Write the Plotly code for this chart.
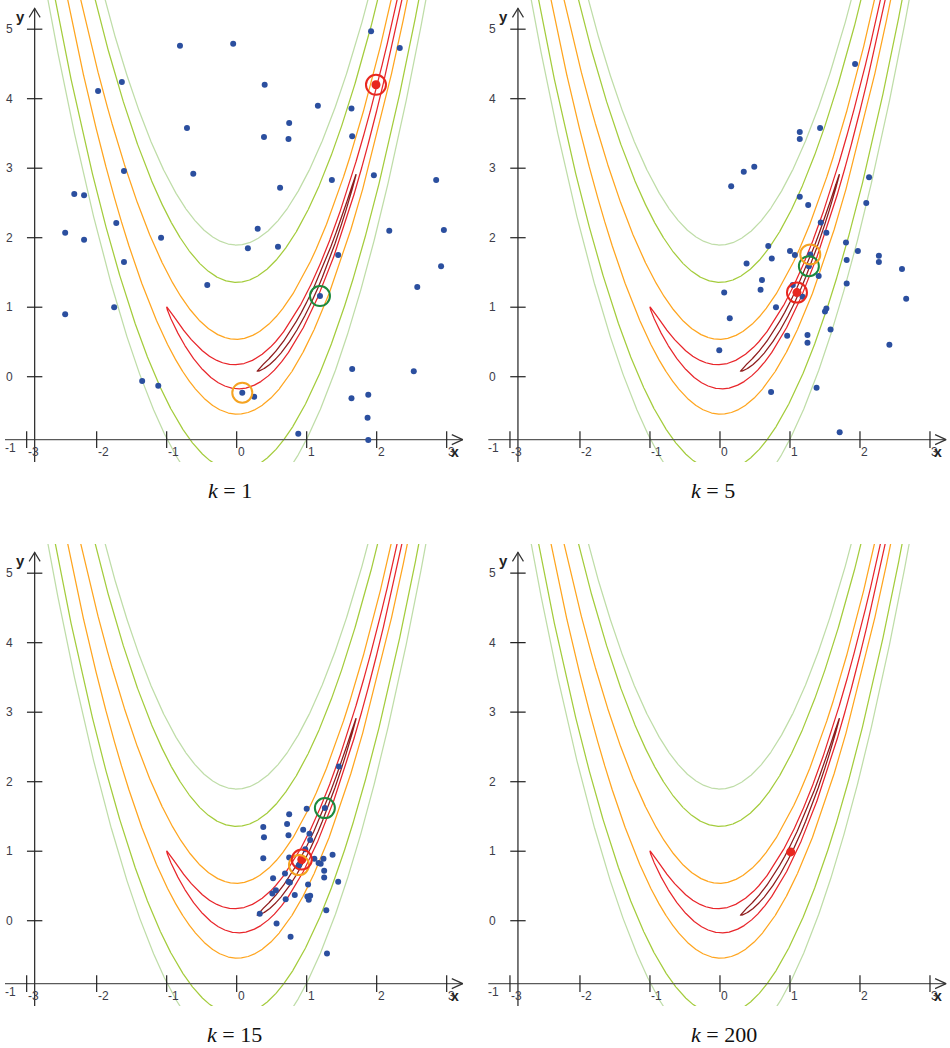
import numpy as np
import plotly.graph_objects as go

# Level sets of the Rosenbrock function f(x, y) = (1 - x)^2 + 100 (y - x^2)^2
levels = [0.5, 4, 30, 185, 360]
level_colors = ["#8e1c1c", "#e8262b", "#ffa51f", "#a4cc3c", "#bfdda8"]

panel_k = [1, 5, 15, 200]

# population samples at each iteration k
k1_x = [-0.81, -0.05, -1.98, -1.64, 0.40, -0.71, 0.75, 0.39, 0.74, 1.16, 1.64, 1.92, 2.33,
        -1.61, -0.62, -2.32, -2.18, -2.45, -2.18, -1.72, -1.08, -1.61, 0.30, 0.16, 0.59,
        0.62, 1.36, 1.65, 1.96, 1.45, -0.42, -1.75, -2.45, 1.19, 0.08, 0.25, -1.35, -1.12,
        1.65, 1.64, 1.88, 1.87, 0.88, 1.88, 2.18, 2.85, 2.96, 2.92, 2.58, 2.53]
k1_y = [4.76, 4.79, 4.11, 4.24, 4.20, 3.58, 3.65, 3.45, 3.42, 3.90, 3.86, 4.97, 4.73,
        2.96, 2.92, 2.63, 2.61, 2.07, 1.97, 2.21, 2.00, 1.65, 2.13, 1.85, 1.87,
        2.72, 2.83, 3.46, 2.90, 1.75, 1.32, 1.00, 0.90, 1.16, -0.23, -0.29, -0.06, -0.13,
        0.11, -0.31, -0.26, -0.59, -0.82, -0.91, 2.10, 2.83, 2.11, 1.59, 1.29, 0.08]

k5_x = [1.93, 1.14, 1.14, 1.43, 0.34, 0.49, 0.16, 2.13, 1.14, 1.26, 2.09, 1.44, 1.52,
        0.69, 1.00, 1.07, 0.38, 0.74, 1.80, 1.97, 1.81, 2.27, 2.27, 2.60, 2.66, 0.60,
        0.58, 0.06, 1.04, 1.18, 1.41, 1.81, 0.80, 1.52, 1.50, 0.14, 1.58, 0.96, 1.25,
        1.25, 2.42, -0.01, 0.73, 1.38, 1.71, 1.29, 1.27]
k5_y = [4.50, 3.52, 3.42, 3.58, 2.95, 3.02, 2.74, 2.87, 2.59, 2.47, 2.50, 2.22, 2.07,
        1.88, 1.81, 1.75, 1.63, 1.70, 1.93, 1.81, 1.68, 1.74, 1.65, 1.55, 1.12, 1.39,
        1.25, 1.21, 1.32, 1.15, 1.45, 1.34, 1.00, 0.98, 0.94, 0.84, 0.68, 0.59, 0.60,
        0.49, 0.46, 0.38, -0.22, -0.16, -0.80, 1.76, 1.59]

k15_x = [1.46, 1.26, 1.00, 0.75, 0.38, 0.72, 0.39, 0.74, 0.95, 1.04, 1.05, 0.98, 0.38,
         0.75, 1.37, 1.11, 1.17, 1.24, 1.20, 1.25, 1.25, 1.45, 0.88, 0.69, 0.52, 0.74,
         0.76, 1.02, 0.56, 0.51, 0.83, 1.01, 1.05, 1.03, 0.70, 1.28, 0.33, 0.57, 0.77,
         1.29, 0.89]
k15_y = [2.22, 1.62, 1.61, 1.53, 1.35, 1.39, 1.20, 1.23, 1.31, 1.25, 1.16, 1.03, 0.90,
         0.91, 0.95, 0.89, 0.83, 0.89, 0.82, 0.72, 0.62, 0.56, 0.78, 0.68, 0.61, 0.56,
         0.55, 0.52, 0.44, 0.39, 0.37, 0.35, 0.36, 0.30, 0.31, 0.15, 0.10, -0.04, -0.23,
         -0.47, 0.80]

k200_x = []
k200_y = []

panel_x = [k1_x, k5_x, k15_x, k200_x]
panel_y = [k1_y, k5_y, k15_y, k200_y]

# distribution mean (red), best sample (green) and second marker (orange)
mean_pts = [(1.99, 4.20), (1.10, 1.21), (0.93, 0.88), (1.01, 0.99)]
green_pts = [(1.19, 1.16), (1.27, 1.59), (1.26, 1.62), None]
orange_pts = [(0.08, -0.23), (1.29, 1.76), (0.89, 0.80), None]

x_ticks = [-3, -2, -1, 0, 1, 2, 3]
y_ticks = [0, 1, 2, 3, 4, 5]

# panel geometry
X_RANGE = [-3.381, 3.276]
Y_RANGE = [-1.227, 5.42]
X_AXIS_Y = -0.905   # height at which the x axis is drawn
Y_AXIS_X = -2.886   # position at which the y axis is drawn
X_ARROW = 3.23
Y_ARROW = 5.30
PX_X = 70.0         # pixels per unit, horizontal
PX_Y = 69.5         # pixels per unit, vertical

W, H = 950, 1048
col_dom = [[0.0, 466 / W], [483.3 / W, 949.3 / W]]
row_dom = [[586 / H, 1.0], [42 / H, 504 / H]]

POINT_BLUE = "#2b4f9f"
MEAN_RED = "#e8271f"
AXIS_GREY = "#5a5a5a"


def level_curve(L, n=24000):
    t = np.linspace(0, 2 * np.pi, n)
    x = 1 + np.sqrt(L) * np.cos(t)
    y = x ** 2 + np.sqrt(L) * np.sin(t) / 10.0
    keep = (x > -3.7) & (x < 3.7) & (y < 6.0) & (y > -1.6)
    xs, ys = [], []
    prev = False
    for xi, yi, k in zip(x, y, keep):
        if k:
            xs.append(round(float(xi), 4))
            ys.append(round(float(yi), 4))
        elif prev:
            xs.append(None)
            ys.append(None)
        prev = k
    return xs, ys


curves = [level_curve(L) for L in levels]

fig = go.Figure()
annotations = []
layout_axes = {}

for p in range(4):
    n = p + 1
    xa = "x" if n == 1 else f"x{n}"
    ya = "y" if n == 1 else f"y{n}"
    r, c = divmod(p, 2)
    layout_axes["xaxis" if n == 1 else f"xaxis{n}"] = dict(
        domain=col_dom[c], range=X_RANGE, visible=False, fixedrange=True,
        anchor=ya)
    layout_axes["yaxis" if n == 1 else f"yaxis{n}"] = dict(
        domain=row_dom[r], range=Y_RANGE, visible=False, fixedrange=True,
        anchor=xa)

    # contour lines
    for (cx, cy), col in zip(curves, level_colors):
        fig.add_trace(go.Scatter(x=cx, y=cy, mode="lines", xaxis=xa, yaxis=ya,
                                 line=dict(color=col, width=1.25),
                                 hoverinfo="skip", showlegend=False))

    # axis lines
    fig.add_trace(go.Scatter(x=[X_RANGE[0] + 5 / PX_X, X_ARROW], y=[X_AXIS_Y, X_AXIS_Y],
                             mode="lines", xaxis=xa, yaxis=ya,
                             line=dict(color=AXIS_GREY, width=1.4),
                             hoverinfo="skip", showlegend=False))
    fig.add_trace(go.Scatter(x=[Y_AXIS_X, Y_AXIS_X], y=[Y_RANGE[0], Y_ARROW],
                             mode="lines", xaxis=xa, yaxis=ya,
                             line=dict(color="#333333", width=1.3),
                             hoverinfo="skip", showlegend=False))
    # arrow heads
    fig.add_trace(go.Scatter(
        x=[X_ARROW - 11 / PX_X, X_ARROW, X_ARROW - 11 / PX_X],
        y=[X_AXIS_Y + 5 / PX_Y, X_AXIS_Y, X_AXIS_Y - 5 / PX_Y],
        mode="lines", xaxis=xa, yaxis=ya, line=dict(color="#333333", width=1.2),
        hoverinfo="skip", showlegend=False))
    fig.add_trace(go.Scatter(
        x=[Y_AXIS_X - 5.5 / PX_X, Y_AXIS_X, Y_AXIS_X + 5.5 / PX_X],
        y=[Y_ARROW - 9 / PX_Y, Y_ARROW, Y_ARROW - 9 / PX_Y],
        mode="lines", xaxis=xa, yaxis=ya, line=dict(color="#333333", width=1.2),
        hoverinfo="skip", showlegend=False))
    # tick marks
    fig.add_trace(go.Scatter(
        x=x_ticks, y=[X_AXIS_Y] * len(x_ticks), mode="markers", xaxis=xa, yaxis=ya,
        marker=dict(symbol="line-ns", size=12, line=dict(color="#222222", width=1.2)),
        hoverinfo="skip", showlegend=False))
    fig.add_trace(go.Scatter(
        x=[Y_AXIS_X] * len(y_ticks), y=y_ticks, mode="markers", xaxis=xa, yaxis=ya,
        marker=dict(symbol="line-ew", size=11, line=dict(color="#222222", width=1.2)),
        hoverinfo="skip", showlegend=False))

    tick_font = dict(family="Liberation Sans, Arial", size=12, color="#3c3c48")
    for v in x_ticks:
        annotations.append(dict(x=v, y=X_AXIS_Y, xref=xa, yref=ya, text=str(v),
                                showarrow=False, xanchor="left", yanchor="top",
                                xshift=-1, yshift=-3, font=tick_font))
    for v in y_ticks:
        annotations.append(dict(x=Y_AXIS_X, y=v, xref=xa, yref=ya, text=str(v),
                                showarrow=False, xanchor="right", yanchor="middle",
                                xshift=-20, font=tick_font))
    annotations.append(dict(x=Y_AXIS_X, y=-1, xref=xa, yref=ya, text="-1",
                            showarrow=False, xanchor="right", yanchor="middle",
                            xshift=-17, yshift=-2, font=tick_font))
    annotations.append(dict(x=X_ARROW, y=X_AXIS_Y, xref=xa, yref=ya, text="<b>x</b>",
                            showarrow=False, xanchor="center", yanchor="middle",
                            xshift=-8, yshift=-12,
                            font=dict(family="Liberation Sans, Arial", size=14,
                                      color="#222222")))
    annotations.append(dict(x=Y_AXIS_X, y=Y_ARROW, xref=xa, yref=ya, text="<b>y</b>",
                            showarrow=False, xanchor="center", yanchor="middle",
                            xshift=-14, yshift=-8,
                            font=dict(family="Liberation Sans, Arial", size=15,
                                      color="#222222")))

    # samples
    if panel_x[p]:
        fig.add_trace(go.Scatter(x=panel_x[p], y=panel_y[p], mode="markers",
                                 xaxis=xa, yaxis=ya,
                                 marker=dict(color=POINT_BLUE, size=6),
                                 hoverinfo="skip", showlegend=False))
    mx, my = mean_pts[p]
    fig.add_trace(go.Scatter(x=[mx], y=[my], mode="markers", xaxis=xa, yaxis=ya,
                             marker=dict(color=MEAN_RED, size=9),
                             hoverinfo="skip", showlegend=False))
    rings = []
    if green_pts[p] is not None:
        rings.append((green_pts[p], "#1c8a3c"))
    if orange_pts[p] is not None:
        rings.append((orange_pts[p], "#f5a321"))
    if p < 3:
        rings.append((mean_pts[p], "#e8271f"))
    for (rx, ry), col in rings:
        fig.add_trace(go.Scatter(x=[rx], y=[ry], mode="markers", xaxis=xa, yaxis=ya,
                                 marker=dict(symbol="circle-open", size=20, color=col,
                                             line=dict(color=col, width=2)),
                                 hoverinfo="skip", showlegend=False))

    # panel caption
    cap_x = [230 / W, 713 / W, 234 / W, 724 / W][p]
    cap_y = [1 - 490 / H, 1 - 490 / H, 1 - 1034 / H, 1 - 1034 / H][p]
    annotations.append(dict(x=cap_x, y=cap_y, xref="paper", yref="paper",
                            text=f"<i>k</i>&nbsp;=&nbsp;{panel_k[p]}", showarrow=False,
                            xanchor="center", yanchor="middle",
                            font=dict(family="Liberation Serif, Times New Roman",
                                      size=22, color="#111111")))

fig.update_layout(
    width=W, height=H,
    margin=dict(l=0, r=0, t=0, b=0),
    paper_bgcolor="white", plot_bgcolor="white",
    showlegend=False,
    annotations=annotations,
    **layout_axes,
)

fig.write_html("out.html")
